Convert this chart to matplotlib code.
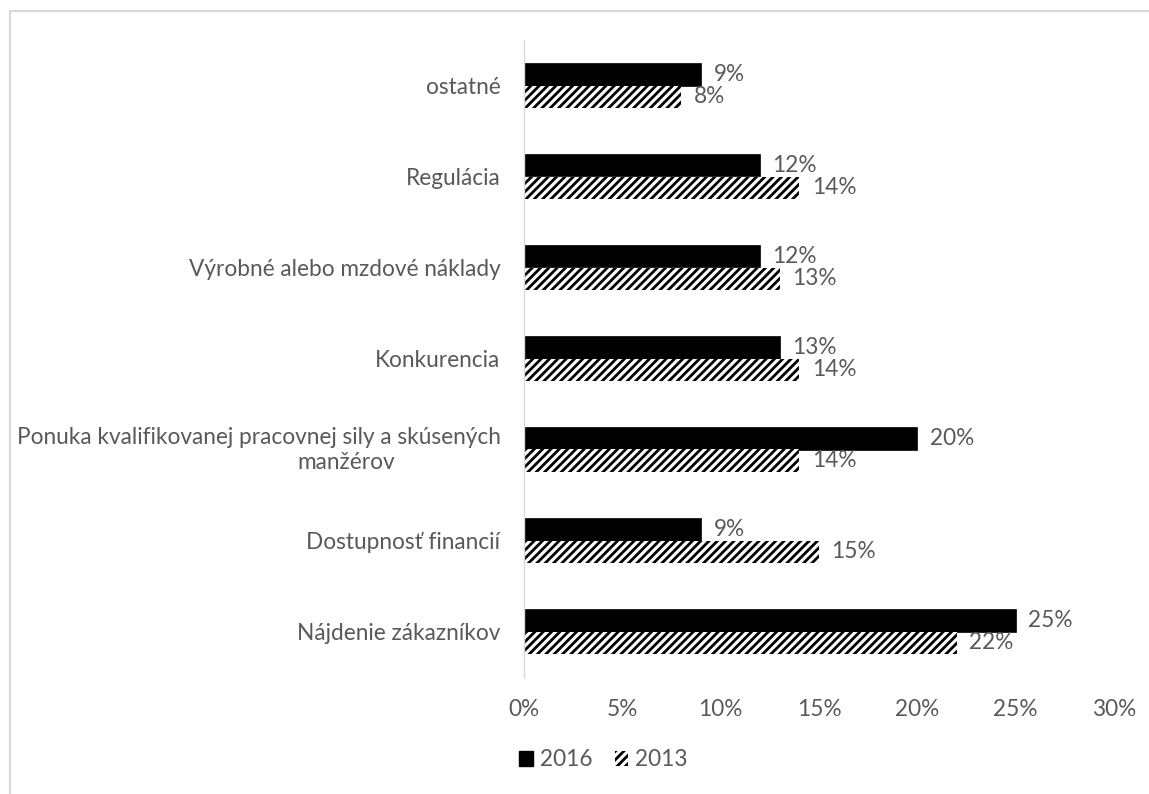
import matplotlib
matplotlib.use("Agg")
import matplotlib.pyplot as plt
import numpy as np
from matplotlib.patches import Rectangle, Patch

plt.rcParams['font.family'] = ['Lato', 'DejaVu Sans']
plt.rcParams['hatch.linewidth'] = 2.0
plt.rcParams['hatch.color'] = 'black'

categories = ["ostatné", "Regulácia", "Výrobné alebo mzdové náklady", "Konkurencia",
              "Ponuka kvalifikovanej pracovnej sily a skúsených\nmanžérov",
              "Dostupnosť financií", "Nájdenie zákazníkov"]
values_2016 = [9, 12, 12, 13, 20, 9, 25]
values_2013 = [8, 14, 13, 14, 14, 15, 22]
series_labels = ["2016", "2013"]
x_ticks = [0, 5, 10, 15, 20, 25, 30]

GRAY = '#595959'
FS = 16.3

fig = plt.figure(figsize=(11.49, 7.94), dpi=100)
ax = fig.add_axes([524/1149, 1-677/794, (1114-524)/1149, (677-40)/794])

y = np.arange(len(categories))
h = 0.245
b16 = ax.barh(y - h/2, values_2016, height=h, color='black', edgecolor='black', linewidth=0.5)
b13 = ax.barh(y + h/2, values_2013, height=h, facecolor='white', edgecolor='black',
              linewidth=0, hatch='////')

for bars, vals in ((b16, values_2016), (b13, values_2013)):
    for r, v in zip(bars, vals):
        ax.annotate(f"{v}%", (r.get_width(), r.get_y() + r.get_height()/2),
                    xytext=(9, 0), textcoords='offset points', va='center', ha='left',
                    color=GRAY, fontsize=FS)

ax.set_xlim(0, 30)
ax.set_ylim(len(categories) - 0.5, -0.5)
ax.set_xticks(x_ticks)
ax.set_xticklabels([f"{t}%" for t in x_ticks], color=GRAY, fontsize=FS)
ax.set_yticks(y)
# wrapped label drawn as two texts, placed like the original's wrap
tick_texts = []
for i, c in enumerate(categories):
    if "\n" in c:
        first, second = c.split("\n", 1)
        tick_texts.append("")
        ax.annotate(first, (0, i), xycoords=('axes fraction', 'data'), xytext=(-17, 8.8),
                    textcoords='offset points', ha='right', va='center', color=GRAY, fontsize=FS)
        ax.annotate(second, (0, i), xycoords=('axes fraction', 'data'), xytext=(-128, -9.4),
                    textcoords='offset points', ha='center', va='center', color=GRAY, fontsize=FS)
    else:
        tick_texts.append(c)
ax.set_yticklabels(tick_texts, color=GRAY, fontsize=FS)

ax.tick_params(axis='both', length=0)
ax.tick_params(axis='x', pad=16)
ax.tick_params(axis='y', pad=17)
for s in ('top', 'right', 'bottom'):
    ax.spines[s].set_visible(False)
ax.spines['left'].set_color('#d9d9d9')
ax.spines['left'].set_linewidth(1.0)

handles = [Patch(facecolor='black', edgecolor='black'),
           Patch(facecolor='white', edgecolor='black', linewidth=0, hatch='////')]
fig.legend(handles, series_labels, loc='center left', bbox_to_anchor=(499/1149, 1-760/794),
           ncol=2, frameon=False, fontsize=FS, handlelength=0.6, handleheight=0.6,
           handletextpad=0.3, columnspacing=1.0, labelcolor=GRAY)

fig.patches.append(Rectangle((10/1149, -0.1), 1.2, 1 - 11/794 + 0.1, transform=fig.transFigure,
                             fill=False, edgecolor='#d9d9d9', linewidth=1.5))

fig.savefig("out.png", dpi=100)
